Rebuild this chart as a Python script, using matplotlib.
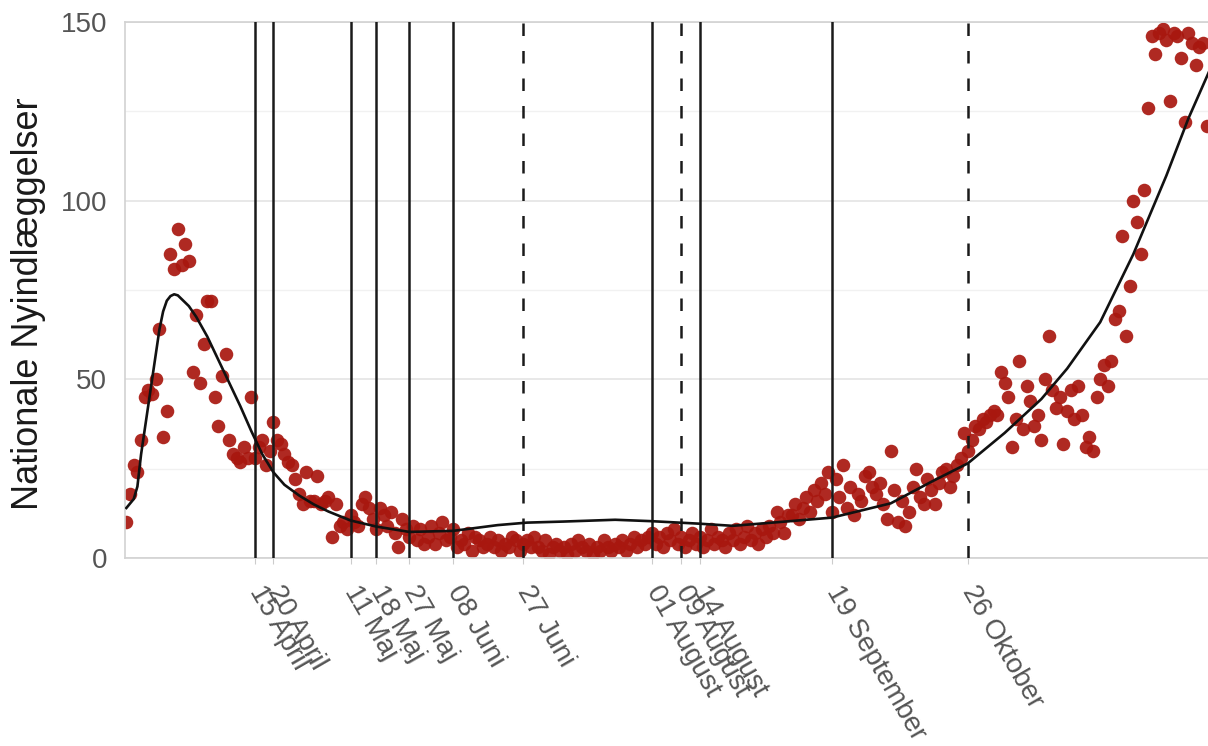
import matplotlib
matplotlib.use('Agg')
import matplotlib.pyplot as plt
import pandas as pd
import numpy as np

plt.rcParams['font.family'] = ['Liberation Sans', 'DejaVu Sans']

# daily national admissions (first day 11 March 2020)
start_day = '2020-03-11'
mar = [10, 18, 26, 24, 33, 45, 47, 46, 50, 64, 34, 41, 85, 81, 92, 82, 88, 83, 52, 68, 49]
apr = [60, 72, 72, 45, 37, 51, 57, 33, 29, 28, 27, 31, 28, 45, 28, 31, 33, 26, 30, 38,
       33, 32, 29, 27, 26, 22, 18, 15, 24, 16]
may = [16, 23, 15, 16, 17, 6, 15, 9, 10, 8, 12, 10, 9, 15, 17, 14, 11, 8, 14, 12,
       9, 13, 7, 3, 11, 8, 6, 9, 5, 8, 4]
jun = [6, 9, 4, 7, 10, 5, 6, 8, 3, 5, 4, 7, 2, 6, 5, 3, 4, 6, 3, 5,
       2, 4, 3, 6, 5, 2, 4, 5, 3, 6]
jul = [3, 2, 5, 1, 3, 4, 2, 3, 1, 4, 2, 5, 3, 2, 4, 1, 3, 2, 5, 3,
       2, 4, 3, 5, 2, 4, 6, 3, 5, 4, 6]
aug = [7, 4, 6, 3, 7, 5, 8, 4, 6, 3, 5, 7, 4, 6, 3, 5, 8, 4, 6, 5,
       3, 7, 5, 8, 4, 6, 9, 5, 7, 4, 8]
sep = [6, 9, 7, 13, 10, 7, 12, 12, 15, 11, 14, 17, 13, 19, 16, 21, 18, 24, 13, 22,
       17, 26, 14, 20, 12, 18, 16, 23, 24, 20]
okt = [18, 21, 15, 11, 30, 19, 10, 16, 9, 13, 20, 25, 17, 15, 22, 19, 15, 21, 24, 25,
       20, 23, 26, 28, 35, 30, 33, 37, 36, 39, 38]
nov = [40, 41, 40, 52, 49, 45, 31, 39, 55, 36, 48, 44, 37, 40, 33, 50, 62, 47, 42, 45,
       32, 41, 47, 39, 48, 40, 31, 34, 30, 45]
dec = [50, 54, 48, 55, 67, 69, 90, 62, 76, 100, 94, 85, 103, 126, 146, 141, 147, 148, 145, 128,
       147, 146, 140, 122, 147, 144, 138, 143, 144, 121]

admissions = mar + apr + may + jun + jul + aug + sep + okt + nov + dec
days = pd.date_range(start_day, periods=len(admissions), freq='D')

# fitted trend line
trend_dates = ['2020-03-11', '2020-03-13', '2020-03-14', '2020-03-15', '2020-03-16', '2020-03-17',
               '2020-03-18', '2020-03-19', '2020-03-20', '2020-03-21', '2020-03-22', '2020-03-23',
               '2020-03-24', '2020-03-25', '2020-03-26', '2020-03-28', '2020-03-30', '2020-04-02',
               '2020-04-05', '2020-04-08', '2020-04-11', '2020-04-14', '2020-04-17', '2020-04-20',
               '2020-04-23', '2020-04-27', '2020-05-01', '2020-05-05', '2020-05-11', '2020-05-18',
               '2020-05-27', '2020-06-08', '2020-06-20', '2020-06-28', '2020-07-08', '2020-07-22',
               '2020-08-01', '2020-08-14', '2020-08-23', '2020-09-04', '2020-09-19', '2020-10-05',
               '2020-10-16', '2020-10-26', '2020-11-05', '2020-11-15', '2020-11-22', '2020-12-01',
               '2020-12-10', '2020-12-19', '2020-12-25', '2020-12-31']
trend_values = [14, 16.5, 20, 29, 36, 43,
                50, 57, 64, 69, 72, 73.3,
                73.8, 73.5, 72.5, 70.5, 67.5, 62,
                55.5, 49, 42.5, 35.5, 29, 24,
                20.5, 17.5, 15, 13, 10.5, 8.8,
                7.3, 7.6, 9.2, 9.9, 10.2, 10.7,
                10.3, 9.6, 9.0, 10.0, 11.3, 15.3,
                21.3, 26.5, 35, 44.5, 53, 66,
                85, 107, 123, 137]

# events marked with vertical lines
event_dates = ['2020-04-15', '2020-04-20', '2020-05-11', '2020-05-18', '2020-05-27', '2020-06-08',
               '2020-06-27', '2020-08-01', '2020-08-09', '2020-08-14', '2020-09-19', '2020-10-26']
event_labels = ['15 April', '20 April', '11 Maj', '18 Maj', '27 Maj', '08 Juni',
                '27 Juni', '01 August', '09 August', '14 August', '19 September', '26 Oktober']
dashed_events = ['2020-06-27', '2020-08-09', '2020-10-26']

fig = plt.figure(figsize=(12.08, 7.46), dpi=100)
ax = fig.add_axes([125 / 1208, 1 - 558 / 746, 1 - 125 / 1208, 536 / 746])

ax.scatter(days, admissions, s=95, color='#a8170f', alpha=0.92, linewidths=0, zorder=2)

for d in event_dates:
    ls = (0, (5, 6)) if d in dashed_events else '-'
    ax.axvline(pd.Timestamp(d), color='#1a1a1a', lw=1.8, ls=ls, zorder=3)

ax.plot(pd.to_datetime(trend_dates), trend_values, color='#111111', lw=1.9, zorder=4)

ax.set_xlim(pd.Timestamp('2020-03-10 15:00'), pd.Timestamp('2020-12-30 08:00'))
ax.set_ylim(0, 150)

ax.set_yticks([0, 50, 100, 150])
ax.set_yticks([25, 75, 125], minor=True)
ax.grid(which='major', axis='y', color='#e4e4e4', lw=1.2)
ax.grid(which='minor', axis='y', color='#f1f1f1', lw=1.0)
ax.set_axisbelow(True)

ax.set_xticks(pd.to_datetime(event_dates))
ax.set_xticklabels(event_labels, rotation=-60, ha='left', va='center',
                   rotation_mode='anchor', color='#555555', fontsize=20)
ax.tick_params(axis='x', length=4, color='#cccccc', pad=17)
ax.tick_params(axis='y', which='both', length=0, labelsize=20, labelcolor='#555555', pad=13)

for side in ['left', 'bottom', 'top']:
    ax.spines[side].set_color('#d2d2d2')
    ax.spines[side].set_linewidth(1.2)
ax.spines['right'].set_visible(False)

ax.set_ylabel('Nationale Nyindlæggelser', fontsize=26, color='#1a1a1a')
ax.yaxis.set_label_coords(-0.073, 0.475)

fig.savefig('out.png', dpi=100)
